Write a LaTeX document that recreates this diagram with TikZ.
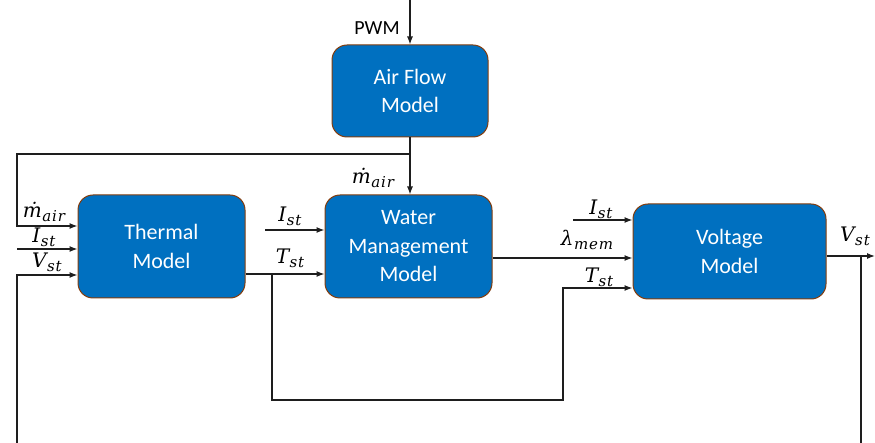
\documentclass[tikz,border=0pt]{standalone}
\usepackage{fontspec}
\setmainfont{Carlito}
\newfontfamily\labfont{DejaVu Serif}
\usetikzlibrary{arrows.meta}
\definecolor{boxblue}{RGB}{0,112,192}
\definecolor{boxedge}{RGB}{132,60,12}
\definecolor{wire}{RGB}{30,30,30}
\newcommand\varlab[2]{{\labfont\itshape\fontsize{20}{22}\selectfont #1\kern0.5pt\raisebox{-4pt}{\fontsize{15}{15}\selectfont\addfontfeature{LetterSpace=6}#2}}}
\tikzset{
  model/.style={draw=boxedge, line width=1pt, fill=boxblue, rounded corners=15pt,
    text=white, align=center, font=\fontsize{22}{28.5}\selectfont, inner sep=0pt},
  wireline/.style={draw=wire, line width=1.2pt},
  arr/.style={wireline, -{Latex[length=8pt,width=6pt]}},
  lbl/.style={inner sep=0pt},
}
\begin{document}
\begin{tikzpicture}[x=1pt,y=-1pt]
\useasboundingbox (0,0) rectangle (875,443);
% boxes
\node[model, minimum width=156pt, minimum height=92pt] (air) at (410,91) {Air Flow\\Model};
\node[model, minimum width=167pt, minimum height=103pt] (thermal) at (161.5,246.5) {Thermal\\Model};
\node[model, minimum width=167pt, minimum height=103pt] (water) at (408.5,246.5) {Water\\Management\\Model};
\node[model, minimum width=193pt, minimum height=95pt] (volt) at (729.5,251.5) {Voltage\\Model};
% coordinates
\coordinate (pwmtop) at (410,0);
\coordinate (airsplit) at (410,154);
\coordinate (leftcorner) at (17,154);
\coordinate (mairin) at (17,226);
\coordinate (istin) at (17,249);
\coordinate (vstbottom) at (17,443);
\coordinate (vstcorner) at (17,275);
\coordinate (tstsplit) at (272,274);
\coordinate (tstlow) at (272,400);
\coordinate (tstrise) at (563,400);
\coordinate (tstcorner) at (563,288);
\coordinate (istwater) at (265,230);
\coordinate (istvolt) at (573,220);
\coordinate (outend) at (875,256);
\coordinate (outsplit) at (861,256);
\coordinate (outbottom) at (861,443);
% connectors
\draw[arr] (pwmtop) -- (air.north);
\draw[arr] (air.south) -- (air.south |- water.north);
\draw[arr] (airsplit) -- (leftcorner) -- (mairin) -- (thermal.west |- mairin);
\draw[arr] (istin) -- (thermal.west |- istin);
\draw[arr] (vstbottom) -- (vstcorner) -- (thermal.west |- vstcorner);
\draw[arr] (thermal.east |- tstsplit) -- (water.west |- tstsplit);
\draw[arr] (tstsplit) -- (tstlow) -- (tstrise) -- (tstcorner) -- (volt.west |- tstcorner);
\draw[arr] (istwater) -- (water.west |- istwater);
\draw[arr] (water.east |- 0,258) -- (volt.west |- 0,258);
\draw[arr] (istvolt) -- (volt.west |- istvolt);
\draw[arr] (volt.east |- outend) -- (outend);
\draw[wireline] (outsplit) -- (outbottom);
% labels
\node[inner sep=0pt, font=\fontsize{20}{22}\selectfont] (pwm) at (377,28) {PWM};
\node[lbl] (lmair1) at (44,212) {\varlab{ṁ}{air}};
\node[lbl] (list1) at (44,237) {\varlab{I}{st}};
\node[lbl] (lvst1) at (47,262) {\varlab{V}{st}};
\node[lbl] (list2) at (290,216) {\varlab{I}{st}};
\node[lbl] (ltst2) at (290,258) {\varlab{T}{st}};
\node[lbl] (lmair2) at (373,178) {\varlab{ṁ}{air}};
\node[lbl] (list3) at (601,209) {\varlab{I}{st}};
\node[lbl] (llam) at (587,240) {\varlab{λ}{mem}};
\node[lbl] (ltst3) at (599,277) {\varlab{T}{st}};
\node[lbl] (lvst2) at (855,236) {\varlab{V}{st}};
\end{tikzpicture}
\end{document}
